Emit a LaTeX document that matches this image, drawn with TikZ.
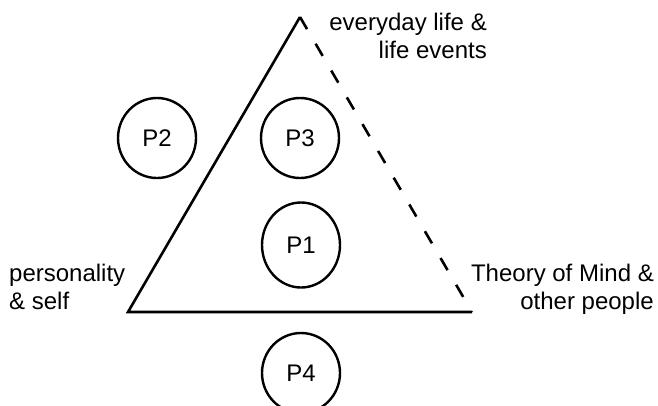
\documentclass[tikz,border=0pt]{standalone}
\usepackage{fontspec}
\setmainfont{Liberation Sans}
\usetikzlibrary{shapes.geometric}
\tikzset{
  edge/.style={line width=2.6pt},
  dedge/.style={line width=2.6pt,dash pattern=on 14pt off 17pt},
  pcirc/.style={ellipse,draw,line width=2.4pt,inner sep=0pt,minimum width=78pt,minimum height=80pt,font=\fontsize{24}{28}\selectfont},
  clab/.style={inner sep=0pt,align=#1,font=\fontsize{24}{28}\selectfont}
}
\begin{document}
\begin{tikzpicture}[x=1pt,y=-1pt]
  \useasboundingbox (0,0) rectangle (658,405);
  % corners of the triangle
  \coordinate (apex) at (300,17);
  \coordinate (pers) at (128,312);
  \coordinate (tom) at (472,312);
  \draw[edge] (tom) -- (pers) -- (apex);
  \draw[dedge] (apex) -- (tom);
  % P circles
  \node[pcirc] (p2) at (157,138) {P2};
  \node[pcirc] (p3) at (300,138) {P3};
  \node[pcirc,minimum height=85pt] (p1) at (301,245) {P1};
  \node[pcirc] (p4) at (301,373) {P4};
  % corner labels
  \node[clab=right,anchor=north east] (life) at (487,13) {everyday life \&\\life events};
  \node[clab=left,anchor=north west] (self) at (9,264) {personality\\\& self};
  \node[clab=right,anchor=north east] (mind) at (654,264) {Theory of Mind \&\\other people};
\end{tikzpicture}
\end{document}
